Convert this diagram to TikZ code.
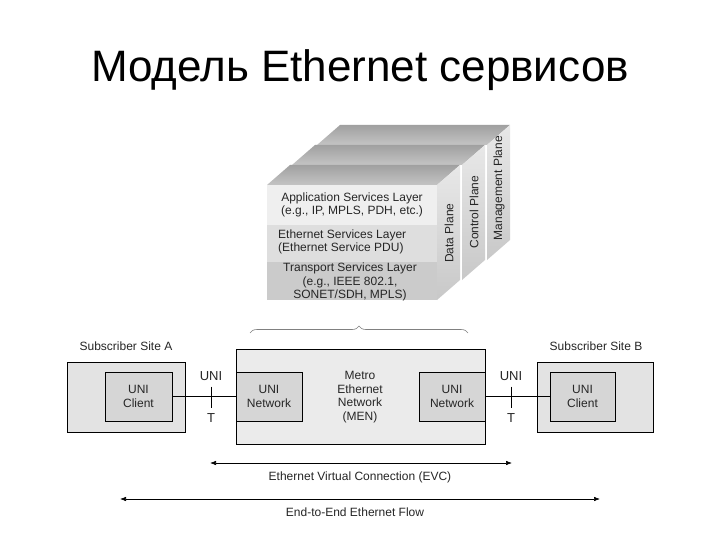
\documentclass[tikz,border=0pt]{standalone}
\usepackage{fontspec}
\setmainfont{Liberation Sans}
\usetikzlibrary{arrows.meta,decorations.pathreplacing}
\definecolor{txt}{HTML}{262626}
\definecolor{topface}{HTML}{A0A0A0}
\definecolor{topfront}{HTML}{C4C4C4}
\definecolor{sideup}{HTML}{E8E8E8}
\definecolor{sidedn}{HTML}{C8C8C8}
\definecolor{appl}{HTML}{EFEFEF}
\definecolor{ethl}{HTML}{DEDEDE}
\definecolor{trl}{HTML}{CBCBCB}
\definecolor{sitefill}{HTML}{E3E3E3}
\definecolor{innerfill}{HTML}{D6D6D6}
\definecolor{menfill}{HTML}{EBEBEB}
\begin{document}
\begin{tikzpicture}[x=1pt,y=-1pt,
  lbl/.style={font=\fontsize{12}{13.5}\selectfont, text=txt, align=center, inner sep=0pt},
  box/.style={draw=black, line width=0.6pt, inner sep=0pt, font=\fontsize{12}{14}\selectfont, text=txt, align=center},
  conn/.style={draw=black, line width=0.6pt},
  dbl/.style={draw=black, line width=0.6pt, {Latex[length=6pt,width=4.5pt]}-{Latex[length=6pt,width=4.5pt]}},
  topf/.style={top color=topface, bottom color=topfront, draw=none},
  sidef/.style={top color=sideup, bottom color=sidedn, draw=none}
]
\useasboundingbox (0,0) rectangle (720,540);
\fill[white] (0,0) rectangle (720,540);

% title
\node[font=\fontsize{44}{50}\selectfont, anchor=base, inner sep=0pt] (title) at (360,82) {Модель Ethernet сервисов};

% ---- 3D stack: back slab (Management Plane)
\shade[topf] (317,145) -- (340,125) -- (510,125) -- (487,145) -- cycle;
\shade[sidef] (487,145) -- (510,125) -- (510,240) -- (487,260) -- cycle;
\node[lbl, rotate=90] (mgmt) at (499,188) {Management Plane};
% middle slab (Control Plane)
\fill[white] (292,165) rectangle (462,280);
\shade[topf] (292,165) -- (315,145) -- (485,145) -- (462,165) -- cycle;
\shade[sidef] (462,165) -- (485,145) -- (485,260) -- (462,280) -- cycle;
\node[lbl, rotate=90] (ctrl) at (474,212) {Control Plane};
% front slab (Data Plane)
\shade[topf] (267,185) -- (290,165) -- (460,165) -- (437,185) -- cycle;
\shade[sidef] (437,185) -- (460,165) -- (460,280) -- (437,300) -- cycle;
\node[lbl, rotate=90] (data) at (449,233) {Data Plane};
\fill[appl] (267,185) rectangle (437,225);
\fill[ethl] (267,225) rectangle (437,262);
\fill[trl] (267,262) rectangle (437,300);
\node[lbl] (app) at (352,205) {Application Services Layer\\(e.g., IP, MPLS, PDH, etc.)};
\node[lbl, align=left, anchor=west] (eth) at (278,242) {Ethernet Services Layer\\(Ethernet Service PDU)};
\node[lbl] (tr) at (350,282) {Transport Services Layer\\(e.g., IEEE 802.1,\\SONET/SDH, MPLS)};

% brace
\coordinate (braceL) at (250,333);
\coordinate (braceR) at (468,333);
\draw[gray, line width=0.6pt, decorate, decoration={brace, amplitude=7pt}] (braceL) -- (braceR);

% ---- bottom network
\node[lbl] (siteAlbl) at (126,346) {Subscriber Site A};
\node[lbl] (siteBlbl) at (596,346) {Subscriber Site B};
\node[box, fill=sitefill, minimum width=118pt, minimum height=70pt] (siteA) at (126,397) {};
\node[box, fill=innerfill, minimum width=67pt, minimum height=49pt] (clientA) at (138.5,396.5) {UNI\\Client};
\node[box, fill=menfill, minimum width=249pt, minimum height=95pt] (men) at (360.5,396.5) {};
\node[lbl] (mentxt) at (360,397) {Metro\\Ethernet\\Network\\(MEN)};
\node[box, fill=innerfill, minimum width=66pt, minimum height=49pt] (netL) at (269,396.5) {UNI\\Network};
\node[box, fill=innerfill, minimum width=66pt, minimum height=49pt] (netR) at (452,396.5) {UNI\\Network};
\node[box, fill=sitefill, minimum width=116pt, minimum height=70pt] (siteB) at (595,397) {};
\node[box, fill=innerfill, minimum width=65pt, minimum height=49pt] (clientB) at (582.5,396.5) {UNI\\Client};

\draw[conn] (clientA.east) -- (netL.west);
\draw[conn] (netR.east) -- (clientB.west);
\coordinate (tA) at (211,396.5);
\coordinate (tB) at (511,396.5);
\draw[conn] ([yshift=10pt]tA) -- ([yshift=-11pt]tA);
\draw[conn] ([yshift=10pt]tB) -- ([yshift=-11pt]tB);
\node[lbl, font=\fontsize{13}{15}\selectfont] (uniA) at (211,376) {UNI};
\node[lbl, font=\fontsize{13}{15}\selectfont] (TA) at (211,418) {T};
\node[lbl, font=\fontsize{13}{15}\selectfont] (uniB) at (511,376) {UNI};
\node[lbl, font=\fontsize{13}{15}\selectfont] (TB) at (511,418) {T};

% arrows
\coordinate (evcL) at (210,463);
\coordinate (evcR) at (512,463);
\draw[dbl] (evcL) -- (evcR);
\node[lbl] (evc) at (360,477) {Ethernet Virtual Connection (EVC)};
\coordinate (e2eL) at (120,499);
\coordinate (e2eR) at (600,499);
\draw[dbl] (e2eL) -- (e2eR);
\node[lbl] (e2e) at (355,512) {End-to-End Ethernet Flow};
\end{tikzpicture}
\end{document}
